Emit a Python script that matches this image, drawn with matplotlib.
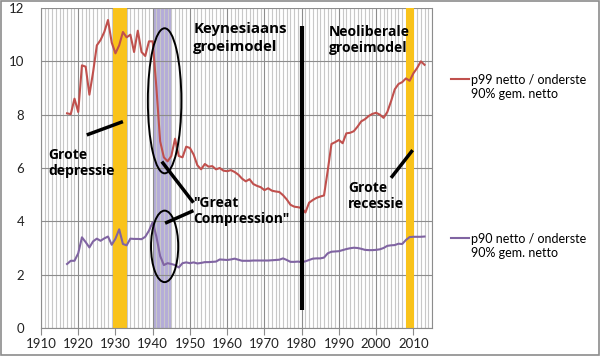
import numpy as np
import matplotlib.pyplot as plt
from matplotlib.patches import Ellipse, Rectangle
from matplotlib.ticker import MultipleLocator

plt.rcParams['font.family'] = ['Lato', 'DejaVu Sans']

# --- data ---
years = np.arange(1917, 2014)

p99 = [8.05, 8.02, 8.6, 8.1, 9.85, 9.8, 8.75, 9.6, 10.6, 10.8,
       11.1, 11.55, 10.7, 10.3, 10.6, 11.1, 10.9, 11.0, 10.35, 11.15,
       10.35, 10.2, 10.75, 10.75, 9.0, 7.0, 6.4, 6.25, 6.45, 7.1,
       6.45, 6.4, 6.8, 6.75, 6.5, 6.1, 5.95, 6.15, 6.05, 6.07,
       5.95, 6.0, 5.9, 5.88, 5.92, 5.85, 5.75, 5.6, 5.5, 5.58,
       5.4, 5.33, 5.28, 5.17, 5.24, 5.15, 5.12, 5.1, 4.98, 4.82,
       4.62, 4.55, 4.53, 4.5, 4.33, 4.7, 4.8, 4.88, 4.93, 4.97,
       5.9, 6.9, 6.97, 7.05, 6.93, 7.3, 7.32, 7.38, 7.55, 7.75,
       7.83, 7.95, 8.03, 8.07, 8.0, 7.88, 8.1, 8.5, 8.95, 9.15,
       9.22, 9.36, 9.27, 9.55, 9.75, 10.0, 9.87]

p90 = [2.4, 2.52, 2.52, 2.8, 3.4, 3.22, 3.02, 3.25, 3.35, 3.27,
       3.36, 3.43, 3.12, 3.35, 3.7, 3.15, 3.1, 3.35, 3.34, 3.34,
       3.33, 3.42, 3.65, 3.97, 3.42, 2.7, 2.36, 2.43, 2.4, 2.36,
       2.27, 2.43, 2.46, 2.43, 2.46, 2.42, 2.44, 2.47, 2.47, 2.48,
       2.49, 2.57, 2.56, 2.55, 2.57, 2.6, 2.56, 2.52, 2.52, 2.52,
       2.53, 2.53, 2.53, 2.53, 2.53, 2.54, 2.55, 2.56, 2.61, 2.55,
       2.48, 2.48, 2.49, 2.47, 2.5, 2.55, 2.6, 2.61, 2.61, 2.64,
       2.8, 2.86, 2.87, 2.88, 2.92, 2.96, 2.99, 3.01, 3.0, 2.97,
       2.93, 2.92, 2.92, 2.93, 2.95, 3.0, 3.08, 3.1, 3.11, 3.16,
       3.15, 3.3, 3.41, 3.42, 3.42, 3.42, 3.43]

label_p99 = 'p99 netto / onderste\n90% gem. netto'
label_p90 = 'p90 netto / onderste\n90% gem. netto'

# crisis periods (gold) and the war years (lavender)
crisis_periods = [(1929.3, 1933.2), (2008.1, 2010.1)]
war_period = (1940.1, 1945.1)

fig = plt.figure(figsize=(6.0, 3.56), dpi=100)
ax = fig.add_axes([0.0683, 0.0787, 0.6517, 0.8988])

# --- background bands ---
for start, end in crisis_periods:
    ax.axvspan(start, end, color='#f9c31b', lw=0, zorder=1)
ax.axvspan(war_period[0], war_period[1], color='#b4acd8', lw=0, zorder=0.3)

# --- series ---
ax.plot(years, p99, color='#c0504d', lw=1.5, zorder=3, label=label_p99)
ax.plot(years, p90, color='#8064a2', lw=1.5, zorder=3, label=label_p90)

# --- annotations: ellipses, divider, pointer lines ---
ax.add_patch(Ellipse((1943.2, 8.52), 9.0, 5.44, fill=False, ec='black', lw=1.4, zorder=4))
ax.add_patch(Ellipse((1943.2, 3.06), 7.3, 2.68, fill=False, ec='black', lw=1.4, zorder=4))
ax.plot([1980, 1980], [0.67, 11.33], color='black', lw=3, zorder=4, solid_capstyle='butt')

pointer_lines = [
    ([1922.3, 1932.0], [7.24, 7.74]),
    ([1942.45, 1950.94], [6.24, 4.70]),
    ([1950.94, 1943.33], [4.40, 3.93]),
    ([2004.0, 2009.8], [5.63, 6.67]),
]
for xs, ys in pointer_lines:
    ax.plot(xs, ys, color='black', lw=2.5, zorder=4, solid_capstyle='butt')

bold = dict(family=['Open Sans', 'DejaVu Sans'], fontweight='bold',
            color='black', zorder=5, ha='left', va='center')
ax.text(1950.9, 10.87, 'Keynesiaans\ngroeimodel', fontsize=10.8, linespacing=1.3, **bold)
ax.text(1987.4, 10.8, 'Neoliberale\ngroeimodel', fontsize=10, linespacing=1.25, **bold)
ax.text(1912.0, 6.2, 'Grote\ndepressie', fontsize=10, linespacing=1.2, **bold)
ax.text(1950.9, 4.38, '"Great\nCompression"', fontsize=10, linespacing=1.2, **bold)
ax.text(1992.4, 4.95, 'Grote\nrecessie', fontsize=10, linespacing=1.2, **bold)

# --- axes styling ---
ax.set_xlim(1910, 2015)
ax.set_ylim(0, 12)
ax.xaxis.set_major_locator(MultipleLocator(10))
ax.xaxis.set_minor_locator(MultipleLocator(1))
ax.yaxis.set_major_locator(MultipleLocator(2))
ax.grid(True, which='major', axis='both', color='#8c8c8c', lw=0.8)
ax.grid(True, which='minor', axis='x', color='#c8c8c8', lw=0.8)
ax.set_axisbelow(True)

for side in ['left', 'bottom', 'right', 'top']:
    ax.spines[side].set_color('#8c8c8c')
    ax.spines[side].set_linewidth(0.8)
ax.spines['top'].set_visible(False)

ax.tick_params(axis='x', which='major', length=5, color='#8c8c8c', labelsize=9.5,
               labelcolor='#222222', pad=2)
ax.tick_params(axis='x', which='minor', length=0)
ax.tick_params(axis='y', length=0, labelsize=9.5, labelcolor='#222222', pad=12)

# --- legend: two entries placed apart, handle level with the first text line ---
h99, h90 = ax.get_legend_handles_labels()[0]
leg_kw = dict(frameon=False, fontsize=9, handlelength=1.4, handleheight=1.15,
              handletextpad=0.15, borderpad=0, borderaxespad=0, loc='center left')
leg1 = fig.legend(handles=[h99], labels=[label_p99], bbox_to_anchor=(0.752, 0.757), **leg_kw)
leg2 = fig.legend(handles=[h90], labels=[label_p90], bbox_to_anchor=(0.752, 0.309), **leg_kw)
for leg in (leg1, leg2):
    for column in leg._legend_handle_box.get_children():
        for item in column.get_children():
            item.align = 'top'

# chart border
fig.patches.append(Rectangle((0.0015, 0.002), 0.997, 0.995, transform=fig.transFigure,
                             fill=False, ec='#8c8c8c', lw=1.2))

fig.savefig('out.png', dpi=100)
